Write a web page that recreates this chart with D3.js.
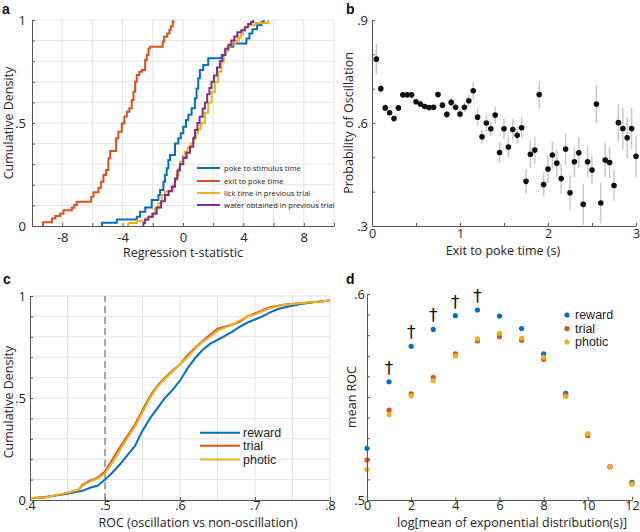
<!DOCTYPE html>
<html><head><meta charset="utf-8">
<script src="https://cdn.jsdelivr.net/npm/d3@7"></script>
<style>body{margin:0;background:#fff}svg{display:block}</style>
</head><body><svg id="chart" width="640" height="532"></svg>
<script>
// ---------------- DATA ----------------
// Panel a: empirical CDF breakpoints [t-statistic, cumulative density]
const aSeriesNames = ["poke to stimulus time","exit to poke time","lick time in previous trial","water obtained in previous trial"];
const aPoke = [[-5.37,0.016],[-4.38,0.032],[-3.06,0.045],[-2.84,0.069],[-2.5,0.09],[-2.07,0.126],[-1.63,0.15],[-1.52,0.175],[-1.3,0.215],[-1.19,0.248],[-1.08,0.28],[-0.97,0.32],[-0.86,0.345],[-0.53,0.4],[-0.31,0.426],[-0.15,0.45],[0.02,0.482],[0.2,0.515],[0.35,0.54],[0.57,0.571],[0.79,0.62],[0.9,0.668],[1.01,0.717],[1.12,0.757],[1.34,0.782],[1.67,0.814],[2.56,0.83],[2.8,0.855],[3.0,0.87],[3.33,0.886],[4.2,0.91],[4.4,0.935],[4.6,0.955],[4.9,0.975],[5.2,0.99],[5.35,1.0]];
const aExit = [[-9.27,0.018],[-8.68,0.037],[-8.46,0.048],[-8.13,0.061],[-7.91,0.077],[-7.36,0.089],[-7.2,0.102],[-7.03,0.118],[-6.08,0.142],[-5.93,0.164],[-5.6,0.186],[-5.42,0.215],[-5.27,0.248],[-5.09,0.272],[-4.94,0.328],[-4.82,0.364],[-4.43,0.426],[-4.28,0.458],[-4.05,0.498],[-3.88,0.531],[-3.72,0.555],[-3.55,0.571],[-3.39,0.612],[-3.28,0.652],[-3.17,0.7],[-3.06,0.733],[-2.89,0.749],[-2.73,0.757],[-2.51,0.806],[-2.4,0.83],[-2.29,0.862],[-2.18,0.87],[-1.34,0.895],[-1.26,0.919],[-1.04,0.935],[-0.9,0.951],[-0.81,0.968],[-0.68,0.99],[-0.64,1.0]];
const aLick = [[-3.62,0.015],[-3.06,0.025],[-2.51,0.037],[-2.29,0.045],[-2.07,0.061],[-1.85,0.086],[-1.63,0.11],[-1.41,0.15],[-1.19,0.167],[-0.64,0.2],[-0.53,0.223],[-0.42,0.248],[-0.3,0.28],[-0.2,0.312],[-0.02,0.34],[0.13,0.36],[0.3,0.38],[0.5,0.4],[0.7,0.43],[0.85,0.45],[1.0,0.47],[1.15,0.49],[1.23,0.5],[1.45,0.55],[1.67,0.6],[1.9,0.65],[2.11,0.7],[2.33,0.75],[2.55,0.8],[2.7,0.83],[2.8,0.85],[2.95,0.87],[3.1,0.88],[3.3,0.89],[3.5,0.9],[3.7,0.915],[3.85,0.93],[3.95,0.95],[4.1,0.965],[4.3,0.975],[4.8,0.985],[5.64,1.0]];
const aWater = [[-2.62,0.015],[-2.51,0.03],[-2.29,0.045],[-2.0,0.06],[-1.74,0.09],[-1.45,0.12],[-1.19,0.15],[-0.95,0.17],[-0.75,0.19],[-0.53,0.23],[-0.37,0.27],[-0.2,0.3],[0.02,0.33],[0.24,0.355],[0.46,0.385],[0.68,0.426],[0.79,0.466],[0.95,0.5],[1.1,0.53],[1.3,0.57],[1.45,0.6],[1.6,0.64],[1.75,0.67],[1.89,0.7],[2.05,0.73],[2.25,0.77],[2.44,0.8],[2.6,0.83],[2.8,0.86],[3.0,0.88],[3.2,0.9],[3.4,0.92],[3.6,0.94],[3.85,0.95],[4.1,0.965],[4.3,0.98],[4.5,0.99],[4.65,1.0]];
const aXTickLabels = [-8,-4,0,4,8];
const aYTickLabels = [0,0.5,1];

// Panel b: probability of oscillation vs exit-to-poke time
const bTime = [0.05,0.1,0.15,0.2,0.25,0.3,0.35,0.4,0.45,0.5,0.55,0.6,0.65,0.7,0.75,0.8,0.85,0.9,0.95,1.0,1.05,1.1,1.15,1.2,1.25,1.3,1.35,1.4,1.45,1.5,1.55,1.6,1.65,1.7,1.75,1.8,1.85,1.9,1.95,2.0,2.05,2.1,2.15,2.2,2.25,2.3,2.35,2.4,2.45,2.5,2.55,2.6,2.65,2.7,2.75,2.8,2.85,2.9,2.95,3.0];
const bProb = [0.786,0.70,0.644,0.63,0.613,0.644,0.682,0.682,0.682,0.662,0.655,0.648,0.645,0.646,0.683,0.652,0.625,0.66,0.646,0.626,0.646,0.665,0.694,0.617,0.56,0.60,0.583,0.623,0.514,0.583,0.53,0.581,0.564,0.586,0.43,0.509,0.521,0.683,0.421,0.466,0.507,0.483,0.438,0.524,0.397,0.487,0.513,0.363,0.487,0.463,0.655,0.367,0.492,0.485,0.418,0.601,0.584,0.557,0.584,0.503];
const bErr = [0.045,0.012,0.01,0.01,0.01,0.01,0.01,0.008,0.008,0.008,0.008,0.008,0.008,0.008,0.01,0.01,0.012,0.012,0.012,0.015,0.015,0.018,0.025,0.025,0.02,0.025,0.02,0.025,0.03,0.03,0.03,0.03,0.025,0.03,0.035,0.04,0.04,0.04,0.035,0.04,0.04,0.04,0.045,0.045,0.05,0.045,0.045,0.06,0.045,0.04,0.055,0.06,0.05,0.045,0.045,0.055,0.06,0.06,0.06,0.06];
const bXTickLabels = [0,1,2,3];
const bYTickLabels = [0.3,0.6,0.9];

// Panel c: CDF of ROC values [roc, cumulative density]
const cNames = ["reward","trial","photic"];
const cReward = [[0.4,0.008],[0.42,0.015],[0.45,0.03],[0.47,0.045],[0.48,0.06],[0.49,0.07],[0.5,0.1],[0.51,0.135],[0.52,0.175],[0.53,0.22],[0.54,0.265],[0.55,0.34],[0.56,0.4],[0.57,0.45],[0.58,0.5],[0.59,0.54],[0.6,0.585],[0.61,0.645],[0.62,0.695],[0.63,0.735],[0.64,0.765],[0.65,0.785],[0.66,0.805],[0.67,0.825],[0.68,0.85],[0.69,0.87],[0.7,0.885],[0.71,0.9],[0.72,0.92],[0.73,0.935],[0.74,0.945],[0.75,0.952],[0.76,0.96],[0.78,0.97],[0.8,0.978]];
const cTrial = [[0.4,0.008],[0.42,0.012],[0.45,0.035],[0.465,0.05],[0.47,0.075],[0.48,0.095],[0.49,0.11],[0.5,0.14],[0.51,0.2],[0.52,0.26],[0.53,0.315],[0.54,0.37],[0.55,0.44],[0.56,0.51],[0.57,0.56],[0.58,0.6],[0.59,0.635],[0.6,0.665],[0.61,0.71],[0.62,0.745],[0.63,0.78],[0.64,0.81],[0.65,0.84],[0.66,0.85],[0.67,0.86],[0.68,0.875],[0.69,0.9],[0.7,0.915],[0.71,0.93],[0.72,0.945],[0.73,0.952],[0.74,0.958],[0.76,0.965],[0.78,0.971],[0.8,0.978]];
const cPhotic = [[0.4,0.01],[0.42,0.014],[0.45,0.035],[0.465,0.05],[0.47,0.07],[0.48,0.09],[0.49,0.105],[0.5,0.13],[0.51,0.185],[0.52,0.245],[0.53,0.305],[0.54,0.36],[0.55,0.43],[0.56,0.5],[0.57,0.555],[0.58,0.595],[0.59,0.63],[0.6,0.665],[0.61,0.7],[0.62,0.74],[0.63,0.775],[0.64,0.8],[0.65,0.83],[0.66,0.845],[0.67,0.86],[0.68,0.88],[0.69,0.9],[0.7,0.91],[0.71,0.925],[0.72,0.94],[0.73,0.95],[0.74,0.957],[0.76,0.964],[0.78,0.97],[0.8,0.978]];
const cXTickLabels = [0.4,0.5,0.6,0.7,0.8];
const cYTickLabels = [0,0.5,1];

// Panel d: mean ROC vs log mean of exponential distribution
const dX = [0,1,2,3,4,5,6,7,8,9,10,11,12];
const dReward = [0.5251,0.5574,0.5746,0.5828,0.5895,0.5922,0.5893,0.5832,0.5709,0.5518,0.5316,0.5162,0.5086];
const dTrial  = [0.5194,0.5437,0.5515,0.5595,0.5709,0.5772,0.5793,0.5775,0.5683,0.5510,0.5312,0.5162,0.5078];
const dPhotic = [0.5149,0.5414,0.5505,0.5579,0.5699,0.5782,0.5809,0.5786,0.5693,0.5502,0.5322,0.5162,0.5078];
const dSignificant = [1,2,3,4,5];
const dXTickLabels = [0,2,4,6,8,10,12];
const dYTickLabels = [0.5,0.6];

// ---------------- STYLE ----------------
const BLUE="#0072BD", ORANGE="#D95319", YELLOW="#EDB120", PURPLE="#7E2F8E";
const FONT="'Open Sans', sans-serif";
const LEGFONT="'Liberation Sans', Arial, sans-serif";
const AX="#555", GRID="#e3e3e3", TXT="#222";
const svg = d3.select("#chart");

function fmt(d){ if (Math.abs(d)<1e-9) return "0"; const s=String(+d.toFixed(3)); return s.startsWith("0.")? s.slice(1) : s; }
function has(arr,d){ return arr.some(v=>Math.abs(v-d)<1e-9); }
function styleAxis(g, fs){
  g.attr("font-family",FONT).attr("font-size",fs);
  g.selectAll(".domain").attr("stroke",AX);
  g.selectAll(".tick line").attr("stroke",AX);
  g.selectAll(".tick text").attr("fill",TXT);
}
function grid(g, xs, ys, xVals, yVals){
  g.selectAll(".gx").data(xVals).join("line").attr("class","gx")
    .attr("x1",d=>xs(d)).attr("x2",d=>xs(d)).attr("y1",ys.range()[0]).attr("y2",ys.range()[1])
    .attr("stroke",GRID).attr("stroke-width",1);
  g.selectAll(".gy").data(yVals).join("line").attr("class","gy")
    .attr("y1",d=>ys(d)).attr("y2",d=>ys(d)).attr("x1",xs.range()[0]).attr("x2",xs.range()[1])
    .attr("stroke",GRID).attr("stroke-width",1);
}
function panelLabel(t,x,y){ svg.append("text").attr("x",x).attr("y",y).text(t)
  .attr("font-family",LEGFONT).attr("font-weight","bold").attr("font-size",14).attr("fill","#111"); }
function yTitle(t,x,y){ svg.append("text").attr("transform",`translate(${x},${y}) rotate(-90)`).attr("text-anchor","middle")
  .attr("dy","0.35em").text(t).attr("font-family",FONT).attr("font-size",12.5).attr("fill",TXT); }
function xTitle(t,x,y){ svg.append("text").attr("x",x).attr("y",y).attr("text-anchor","middle")
  .attr("dy","0.35em").text(t).attr("font-family",FONT).attr("font-size",12.5).attr("fill",TXT); }

// ---------------- PANEL A ----------------
{
  const x = d3.scaleLinear().domain([-10,10]).range([32,334]);
  const y = d3.scaleLinear().domain([0,1]).range([226,20]);
  const g = svg.append("g");
  grid(g, x, y, d3.range(-8,10.01,2), d3.range(1,11).map(i=>i/10));
  const line = d3.line().x(d=>x(d[0])).y(d=>y(d[1])).curve(d3.curveStepAfter);
  const series = [[aPoke,BLUE],[aExit,ORANGE],[aLick,YELLOW],[aWater,PURPLE]];
  const order = [1,0,2,3];
  order.forEach(i=>{
    const [pts,col]=series[i];
    const data=[[pts[0][0],0]].concat(pts);
    g.append("path").datum(data).attr("d",line).attr("fill","none").attr("stroke",col).attr("stroke-width",2);
  });
  const xa = g.append("g").attr("transform","translate(0,226)")
    .call(d3.axisBottom(x).tickValues(d3.range(-10,10.01,2)).tickFormat(d=>has(aXTickLabels,d)?fmt(d):"").tickSizeInner(-3).tickSizeOuter(0).tickPadding(7));
  styleAxis(xa,13);
  const ya = g.append("g").attr("transform","translate(32,0)")
    .call(d3.axisLeft(y).tickValues(d3.range(0,11).map(i=>i/10)).tickFormat(d=>has(aYTickLabels,d)?fmt(d):"").tickSizeInner(-3).tickSizeOuter(0).tickPadding(6));
  styleAxis(ya,13);
  // legend
  const lg = g.append("g");
  const ly = [168,181,193,205];
  [BLUE,ORANGE,YELLOW,PURPLE].forEach((c,i)=>{
    lg.append("line").attr("x1",197).attr("x2",220).attr("y1",ly[i]).attr("y2",ly[i]).attr("stroke",c).attr("stroke-width",2);
    lg.append("text").attr("x",224).attr("y",ly[i]).attr("dy","0.35em").text(aSeriesNames[i])
      .attr("font-family",FONT).attr("font-size",7.6).attr("fill",TXT);
  });
  panelLabel("a",2,14);
  yTitle("Cumulative Density",9,123);
  xTitle("Regression t-statistic",183,253);
}

// ---------------- PANEL B ----------------
{
  const x = d3.scaleLinear().domain([0,3]).range([372,636]);
  const y = d3.scaleLinear().domain([0.3,0.9]).range([226,20]);
  const g = svg.append("g");
  svg.append("clipPath").attr("id","clipB").append("rect").attr("x",372).attr("y",20).attr("width",268).attr("height",206);
  const pts = bTime.map((t,i)=>({t, p:bProb[i], e:bErr[i]}));
  g.append("g").attr("clip-path","url(#clipB)").selectAll("line").data(pts).join("line")
    .attr("x1",d=>x(d.t)).attr("x2",d=>x(d.t)).attr("y1",d=>y(d.p-d.e)).attr("y2",d=>y(d.p+d.e))
    .attr("stroke","#c8c8c8").attr("stroke-width",1.5);
  g.selectAll("circle").data(pts).join("circle").attr("cx",d=>x(d.t)).attr("cy",d=>y(d.p)).attr("r",2.8).attr("fill","#111");
  const xa = g.append("g").attr("transform","translate(0,226)")
    .call(d3.axisBottom(x).tickValues(d3.range(0,3.01,0.5)).tickFormat(d=>has(bXTickLabels,d)?fmt(d):"").tickSizeInner(-3).tickSizeOuter(0).tickPadding(3));
  styleAxis(xa,12.5);
  const ya = g.append("g").attr("transform","translate(372,0)")
    .call(d3.axisLeft(y).tickValues(d3.range(3,10).map(i=>i/10)).tickFormat(d=>has(bYTickLabels,d)?fmt(d):"").tickSizeInner(-3).tickSizeOuter(0).tickPadding(4));
  styleAxis(ya,13);
  panelLabel("b",346,14);
  yTitle("Probability of Oscillation",349,123);
  xTitle("Exit to poke time (s)",503,251);
}

// ---------------- PANEL C ----------------
{
  const x = d3.scaleLinear().domain([0.4,0.8]).range([30,330]);
  const y = d3.scaleLinear().domain([0,1]).range([500,296]);
  const g = svg.append("g");
  grid(g, x, y, d3.range(9,17).map(i=>i*0.05), d3.range(1,11).map(i=>i/10));
  g.append("line").attr("x1",x(0.5)).attr("x2",x(0.5)).attr("y1",y(0)).attr("y2",y(1))
    .attr("stroke","#777").attr("stroke-width",1.2).attr("stroke-dasharray","7,4");
  const line = d3.line().x(d=>x(d[0])).y(d=>y(d[1]));
  [[cReward,BLUE],[cTrial,ORANGE],[cPhotic,YELLOW]].forEach(([pts,col])=>{
    g.append("path").datum(pts).attr("d",line).attr("fill","none").attr("stroke",col).attr("stroke-width",2);
  });
  const xa = g.append("g").attr("transform","translate(0,500)")
    .call(d3.axisBottom(x).tickValues(cXTickLabels).tickFormat(fmt).tickSizeInner(-3).tickSizeOuter(0).tickPadding(1));
  styleAxis(xa,12.5);
  const ya = g.append("g").attr("transform","translate(30,0)")
    .call(d3.axisLeft(y).tickValues(d3.range(0,11).map(i=>i/10)).tickFormat(d=>has(cYTickLabels,d)?fmt(d):"").tickSizeInner(-3).tickSizeOuter(0).tickPadding(4));
  styleAxis(ya,13);
  const ly=[432.7,445.7,459.5];
  [BLUE,ORANGE,YELLOW].forEach((c,i)=>{
    g.append("line").attr("x1",200).attr("x2",240).attr("y1",ly[i]).attr("y2",ly[i]).attr("stroke",c).attr("stroke-width",2);
    g.append("text").attr("x",243).attr("y",ly[i]).attr("dy","0.35em").text(cNames[i])
      .attr("font-family",LEGFONT).attr("font-size",12.5).attr("fill",TXT);
  });
  panelLabel("c",3,284);
  yTitle("Cumulative Density",9,402);
  xTitle("ROC (oscillation vs non-oscillation)",198,522.5);
}

// ---------------- PANEL D ----------------
{
  const x = d3.scaleLinear().domain([0,12]).range([367,632]);
  const y = d3.scaleLinear().domain([0.5,0.6]).range([500,294]);
  const g = svg.append("g");
  [[dReward,BLUE],[dTrial,ORANGE],[dPhotic,YELLOW]].forEach(([vals,col])=>{
    g.append("g").selectAll("circle").data(vals).join("circle")
      .attr("cx",(d,i)=>x(dX[i])).attr("cy",d=>y(d)).attr("r",2.6).attr("fill",col);
  });
  g.selectAll(".dag").data(dSignificant).join("text").attr("class","dag")
    .attr("x",d=>x(d)).attr("y",d=>y(dReward[dX.indexOf(d)])-14).attr("dy","0.35em").attr("text-anchor","middle")
    .text("\u2020").attr("font-family","'DejaVu Sans', sans-serif").attr("font-size",17).attr("fill","#111");
  const xa = g.append("g").attr("transform","translate(0,500)")
    .call(d3.axisBottom(x).tickValues(dXTickLabels).tickFormat(fmt).tickSizeInner(-3).tickSizeOuter(0).tickPadding(1));
  styleAxis(xa,12.5);
  const ya = g.append("g").attr("transform","translate(367,0)")
    .call(d3.axisLeft(y).tickValues(d3.range(50,61).map(i=>i/100)).tickFormat(d=>has(dYTickLabels,d)?fmt(d):"").tickSizeInner(-3).tickSizeOuter(0).tickPadding(2));
  styleAxis(ya,13);
  const ly=[315,328.5,342];
  [BLUE,ORANGE,YELLOW].forEach((c,i)=>{
    g.append("circle").attr("cx",567).attr("cy",ly[i]).attr("r",2.6).attr("fill",c);
    g.append("text").attr("x",575).attr("y",ly[i]).attr("dy","0.35em").text(cNames[i])
      .attr("font-family",LEGFONT).attr("font-size",12.5).attr("fill",TXT);
  });
  panelLabel("d",346,284);
  yTitle("mean ROC",352,397);
  xTitle("log[mean of exponential distribution(s)]",512,522.5);
}
</script></body></html>
